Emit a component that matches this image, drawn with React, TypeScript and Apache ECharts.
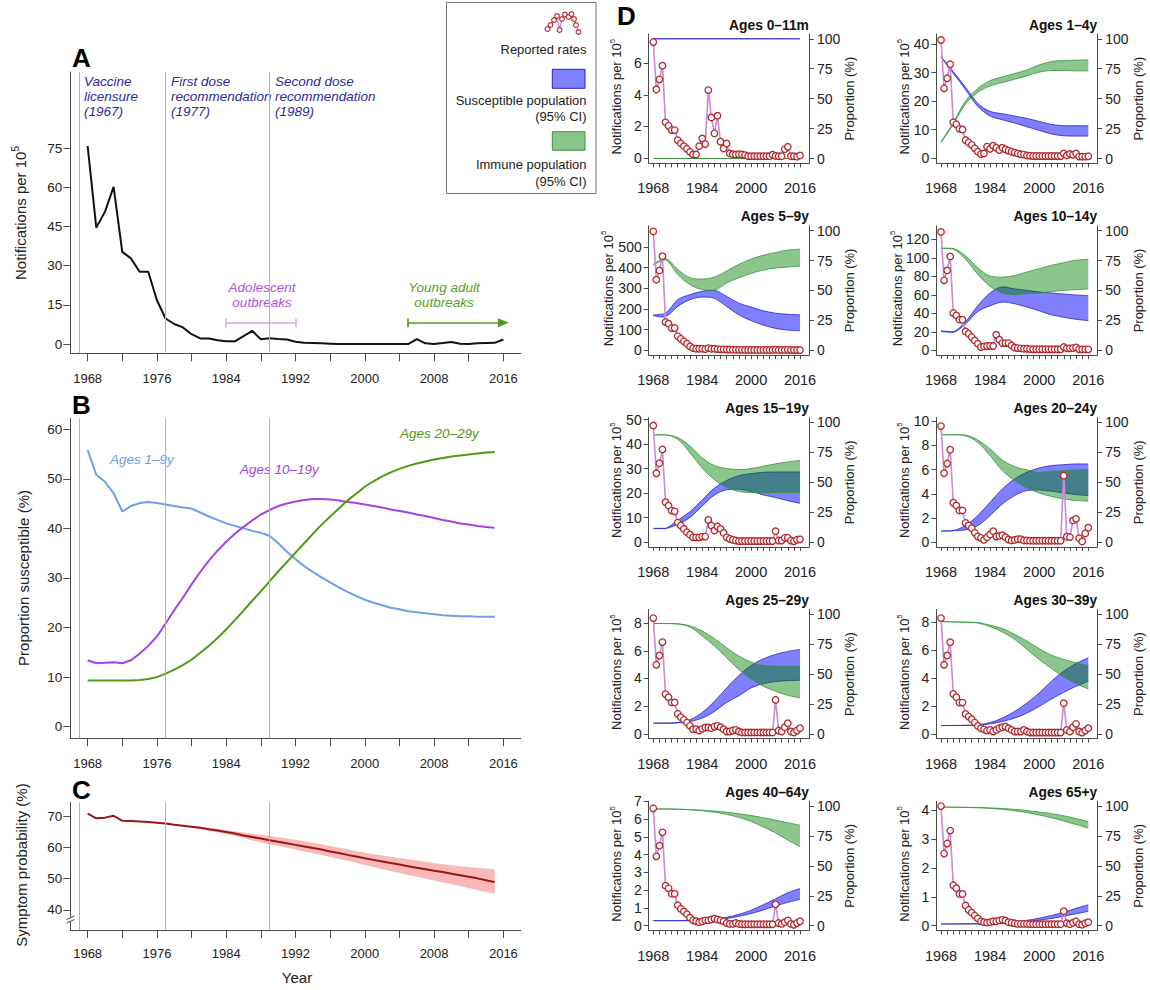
import React, { useEffect, useRef } from "react";
import * as echarts from "echarts";

const FONT = "'Liberation Sans', Arial, Helvetica, sans-serif";
const TXT = "#222222";
const AXIS = "#4a4a4a";

// ---------- shared x values ----------
const YEARS = [1968,1969,1970,1971,1972,1973,1974,1975,1976,1977,1978,1979,1980,1981,1982,1983,1984,1985,1986,1987,1988,1989,1990,1991,1992,1993,1994,1995,1996,1997,1998,1999,2000,2001,2002,2003,2004,2005,2006,2007,2008,2009,2010,2011,2012,2013,2014,2015,2016];
const YEARS_MODEL = [1968,1969,1970,1971,1972,1973,1974,1975,1976,1977,1978,1979,1980,1981,1982,1983,1984,1985,1986,1987,1988,1989,1990,1991,1992,1993,1994,1995,1996,1997,1998,1999,2000,2001,2002,2003,2004,2005,2006,2007,2008,2009,2010,2011,2012,2013,2014,2015];
const BAND_YEARS = [1968, 1972, 1976, 1980, 1984, 1988, 1992, 1996, 2000, 2004, 2008, 2012, 2016];
const C_BAND_YEARS = [1968, 1972, 1976, 1980, 1984, 1988, 1992, 1996, 2000, 2004, 2008, 2012, 2015];

// ---------- tick labels ----------
const X_TICKS_MAIN = [1968, 1972, 1976, 1980, 1984, 1988, 1992, 1996, 2000, 2004, 2008, 2012, 2016];
const X_LABELS_MAIN = [1968, 1976, 1984, 1992, 2000, 2008, 2016];
const X_TICKS_SMALL = [1968,1970,1972,1974,1976,1978,1980,1982,1984,1986,1988,1990,1992,1994,1996,1998,2000,2002,2004,2006,2008,2010,2012,2014,2016];
const X_LABELS_SMALL = [1968, 1984, 2000, 2016];
const A_TICKS = [0, 15, 30, 45, 60, 75];
const B_TICKS = [0, 10, 20, 30, 40, 50, 60];
const C_TICKS = [40, 50, 60, 70];
const PROP_TICKS = [0, 25, 50, 75, 100];
const VACCINE_YEARS = [1967, 1977, 1989];

// ---------- Panel A: notifications per 10^5 ----------
const NOTIF_ALL = [
  75.8, 44.6, 50.6, 60.2, 35.3, 32.8, 27.7, 27.7, 16.8, 9.8,
  7.7, 6.4, 3.8, 2.2, 2.2, 1.5, 1.1, 1.1, 3.1, 5.1,
  1.9, 2.3, 2.0, 1.8, 0.9, 0.5, 0.4, 0.3, 0.2, 0.1,
  0.1, 0.1, 0.1, 0.1, 0.1, 0.1, 0.1, 0.05, 1.9, 0.3,
  0.1, 0.4, 0.8, 0.15, 0.1, 0.3, 0.4, 0.5, 1.8,
];

// ---------- Panel B: proportion susceptible ----------
const SUSC_1_9 = [
  55.8, 50.8, 49.4, 47.1, 43.4, 44.5, 45.1, 45.3, 45.1, 44.8,
  44.5, 44.2, 44.0, 43.2, 42.4, 41.7, 41.0, 40.5, 40.0, 39.5,
  39.1, 38.5, 37.0, 35.3, 33.8, 32.4, 31.2, 30.1, 29.1, 28.1,
  27.2, 26.4, 25.6, 25.0, 24.5, 24.0, 23.7, 23.3, 23.1, 22.9,
  22.7, 22.5, 22.4, 22.3, 22.3, 22.2, 22.2, 22.2,
];
const SUSC_10_19 = [
  13.4, 12.8, 12.9, 13.0, 12.8, 13.4, 14.7, 16.3, 18.2, 20.8,
  23.5, 26.0, 28.7, 31.2, 33.5, 35.5, 37.3, 38.9, 40.3, 41.6,
  42.8, 43.7, 44.5, 45.0, 45.4, 45.7, 45.9, 45.9, 45.8, 45.6,
  45.3, 45.1, 44.8, 44.5, 44.2, 43.8, 43.5, 43.2, 42.8, 42.5,
  42.1, 41.7, 41.4, 41.0, 40.8, 40.5, 40.3, 40.1,
];
const SUSC_20_29 = [
  9.3, 9.3, 9.3, 9.3, 9.3, 9.3, 9.4, 9.6, 10.0, 10.7,
  11.5, 12.4, 13.5, 14.9, 16.3, 17.9, 19.6, 21.5, 23.4, 25.4,
  27.3, 29.3, 31.3, 33.2, 35.1, 37.0, 38.9, 40.7, 42.4, 44.0,
  45.6, 47.0, 48.4, 49.5, 50.5, 51.3, 52.0, 52.6, 53.1, 53.5,
  53.9, 54.2, 54.5, 54.7, 54.9, 55.1, 55.3, 55.4,
];

// ---------- Panel C: symptom probability ----------
const SYMPTOM = [
  70.8, 69.3, 69.5, 70.1, 68.5, 68.4, 68.3, 68.1, 67.9, 67.6,
  67.2, 66.9, 66.6, 66.3, 65.8, 65.4, 64.9, 64.4, 63.8, 63.3,
  62.8, 62.3, 61.8, 61.3, 60.8, 60.3, 59.8, 59.3, 58.7, 58.2,
  57.6, 57.1, 56.5, 56.0, 55.5, 55.0, 54.5, 54.0, 53.5, 53.0,
  52.5, 52.1, 51.6, 51.1, 50.6, 50.1, 49.5, 48.9,
];
const SYMPTOM_HI = [70.8, 68.5, 68.0, 66.8, 65.5, 64.0, 62.4, 60.4, 58.3, 56.6, 55.0, 53.7, 53.0];
const SYMPTOM_LO = [70.8, 68.5, 67.8, 66.3, 64.3, 61.6, 59.3, 56.9, 54.4, 51.8, 49.4, 47.0, 45.1];

// ---------- Panel D: reported rates by age ----------
const R_0_11M = [
  7.35, 4.34, 4.98, 5.85, 2.25, 2.03, 1.76, 1.76, 1.12, 0.91,
  0.74, 0.57, 0.38, 0.21, 0.21, 0.74, 1.23, 0.87, 4.3, 2.56,
  1.55, 2.67, 1.02, 0.59, 0.91, 0.28, 0.23, 0.21, 0.23, 0.21,
  0.17, 0.1, 0.1, 0.1, 0.1, 0.1, 0.1, 0.1, 0.1, 0.2,
  0.12, 0.1, 0.1, 0.55, 0.7, 0.1, 0.1, 0.07, 0.15,
];
const R_1_4Y = [
  41.4, 24.5, 28.0, 32.9, 12.6, 11.9, 10.3, 10.1, 6.4, 5.6,
  4.7, 3.5, 2.3, 1.5, 1.7, 4.1, 3.3, 4.4, 3.7, 2.9,
  3.7, 3.1, 2.7, 2.3, 2.0, 1.7, 1.4, 1.3, 1.0, 0.9,
  0.8, 0.8, 0.8, 0.8, 0.8, 0.8, 0.8, 0.8, 0.8, 0.8,
  1.7, 1.0, 1.5, 1.2, 1.7, 0.6, 0.6, 0.6, 0.7,
];
const R_5_9Y = [
  576, 342, 387, 456, 137, 129, 108, 108, 69, 56,
  44, 32, 19, 11, 8, 8, 8, 6, 11, 8,
  8, 6, 5, 5, 4, 4, 3, 3, 2.5, 2.5,
  2, 2, 2, 2, 2, 2, 2, 2, 2, 2,
  3, 2, 2, 2, 2.5, 1.5, 1.5, 1.5, 1.5,
];
const R_10_14Y = [
  128, 75.7, 86.5, 101.6, 40.4, 37.8, 33.2, 33.2, 20.5, 18,
  14.4, 10.8, 7.2, 3.6, 4.3, 4.7, 5, 4.7, 16.9, 11.5,
  7.9, 7.9, 7.9, 5.4, 2.9, 2.5, 2.2, 1.8, 1.8, 1.4,
  1.2, 1.2, 1.2, 1.2, 1.2, 1.2, 1.2, 1.2, 1.2, 1.2,
  3.6, 2.2, 2.2, 2.5, 3.2, 1.1, 1.1, 1.1, 1.1,
];
const R_15_19Y = [
  47.6, 28.1, 32.2, 37.8, 16.3, 14.9, 12.9, 12.6, 8, 6.8,
  5.4, 4.1, 3.1, 2, 2, 2, 2.3, 2.3, 9.1, 6.8,
  4.8, 6.4, 5.4, 3.8, 2, 1.4, 1, 0.7, 0.5, 0.5,
  0.5, 0.5, 0.5, 0.5, 0.5, 0.5, 0.5, 0.5, 0.5, 0.5,
  4.5, 0.7, 0.7, 1.8, 1.8, 0.7, 0.4, 1, 1.2,
];
const R_20_24Y = [
  9.6, 5.7, 6.5, 7.65, 3.26, 3.04, 2.62, 2.62, 1.6, 1.38,
  1.16, 0.77, 0.47, 0.36, 0.19, 0.41, 0.64, 0.91, 0.47, 0.52,
  0.58, 0.41, 0.22, 0.14, 0.19, 0.25, 0.25, 0.14, 0.14, 0.12,
  0.12, 0.12, 0.12, 0.12, 0.12, 0.12, 0.12, 0.12, 0.12, 0.12,
  5.5, 0.45, 0.42, 1.8, 1.93, 0.33, 0.06, 0.72, 1.2,
];
const R_25_29Y = [
  8.36, 4.99, 5.66, 6.63, 2.87, 2.65, 2.27, 2.27, 1.45, 1.2,
  1.01, 0.82, 0.58, 0.34, 0.34, 0.24, 0.36, 0.46, 0.46, 0.41,
  0.53, 0.58, 0.48, 0.34, 0.17, 0.17, 0.24, 0.29, 0.17, 0.1,
  0.1, 0.1, 0.1, 0.1, 0.1, 0.1, 0.1, 0.1, 0.1, 0.1,
  2.46, 0.24, 0.17, 0.48, 0.77, 0.17, 0.1, 0.24, 0.41,
];
const R_30_39Y = [
  8.28, 4.94, 5.61, 6.56, 2.86, 2.63, 2.24, 2.24, 1.43, 1.24,
  1.05, 0.81, 0.57, 0.41, 0.33, 0.24, 0.29, 0.17, 0.29, 0.41,
  0.48, 0.53, 0.41, 0.29, 0.17, 0.17, 0.17, 0.29, 0.17, 0.1,
  0.1, 0.1, 0.1, 0.1, 0.1, 0.1, 0.1, 0.1, 0.1, 0.1,
  2.2, 0.29, 0.17, 0.48, 0.72, 0.17, 0.1, 0.24, 0.41,
];
const R_40_64Y = [
  6.6, 3.9, 4.5, 5.25, 2.25, 2.1, 1.8, 1.8, 1.15, 0.95,
  0.8, 0.65, 0.45, 0.3, 0.25, 0.2, 0.25, 0.3, 0.3, 0.35,
  0.4, 0.35, 0.3, 0.25, 0.15, 0.1, 0.1, 0.15, 0.1, 0.08,
  0.08, 0.08, 0.08, 0.08, 0.08, 0.08, 0.08, 0.08, 0.08, 0.08,
  1.2, 0.15, 0.1, 0.2, 0.3, 0.1, 0.05, 0.15, 0.25,
];
const R_65Y = [
  4.15, 2.5, 2.85, 3.3, 1.4, 1.3, 1.1, 1.1, 0.7, 0.55,
  0.45, 0.35, 0.25, 0.15, 0.12, 0.1, 0.12, 0.15, 0.15, 0.18,
  0.2, 0.18, 0.12, 0.1, 0.08, 0.06, 0.06, 0.06, 0.06, 0.05,
  0.05, 0.05, 0.05, 0.05, 0.05, 0.05, 0.05, 0.05, 0.05, 0.05,
  0.5, 0.08, 0.05, 0.1, 0.15, 0.05, 0.03, 0.08, 0.12,
];

// ---------- Panel D: susceptible / immune bands (%), at BAND_YEARS ----------
const S_HI_0_11M = [100, 100, 100, 100, 100, 100, 100, 100, 100, 100, 100, 100, 100];
const S_LO_0_11M = [100, 100, 100, 100, 100, 100, 100, 100, 100, 100, 100, 100, 100];
const I_HI_0_11M = [0, 0, 0, 0, 0, 0, 0, 0, 0, 0, 0, 0, 0];
const I_LO_0_11M = [0, 0, 0, 0, 0, 0, 0, 0, 0, 0, 0, 0, 0];

const S_HI_1_4Y = [85.2, 72.6, 59.5, 46, 39.4, 37.4, 35.5, 33.5, 31, 28.5, 27.4, 27.4, 27.4];
const S_LO_1_4Y = [84.6, 71.2, 57.5, 43.5, 35.5, 32.4, 29.6, 26.5, 23.5, 20.5, 19, 18.7, 18.7];
const I_HI_1_4Y = [14, 30, 48, 58.5, 65, 68.2, 71, 74, 78.2, 81, 81.8, 82.1, 82.4];
const I_LO_1_4Y = [13.1, 28.6, 45.5, 55.3, 60.6, 63.4, 66.2, 69, 72.2, 73.5, 73.5, 73.2, 73.2];

const S_HI_5_9Y = [29.6, 31, 42.3, 46.5, 49.3, 50.1, 45, 39.4, 36.1, 33, 31, 30.1, 29.6];
const S_LO_5_9Y = [29, 28.2, 36.6, 42.3, 44.5, 43.4, 36.6, 29.6, 24.8, 21.1, 18.3, 16.9, 16.3];
const I_HI_5_9Y = [71.8, 76.6, 67.6, 60.6, 59.5, 61.2, 66.2, 71.8, 76.1, 79.4, 81.7, 83.7, 84.5];
const I_LO_5_9Y = [71.3, 75.5, 63.4, 54.9, 50.7, 50.1, 56.3, 60.6, 64.2, 67, 68.7, 69.6, 70.4];

const S_HI_10_14Y = [16.3, 15.5, 23.9, 37.2, 47.9, 53, 51.3, 50.1, 48.7, 47.9, 47, 46.2, 45.6];
const S_LO_10_14Y = [15.8, 14.9, 22, 32.4, 37.2, 40.3, 38.9, 36.1, 33, 29.6, 27.6, 25.9, 24.8];
const I_HI_10_14Y = [85.4, 85.1, 78.9, 69, 62, 61.1, 62.5, 65.4, 68.2, 71, 73.2, 75.2, 76.1];
const I_LO_10_14Y = [85.1, 84.5, 76.1, 63.4, 53.5, 47.9, 46.5, 47.3, 47.9, 49, 50.1, 50.7, 51.3];

const S_HI_15_19Y = [11.5, 11.5, 18.3, 25.4, 35.2, 45.1, 51.5, 55.5, 57.2, 58.3, 58.6, 58.6, 58.6];
const S_LO_15_19Y = [11.3, 11.3, 14.9, 20.6, 30.1, 39.4, 43.7, 44.2, 42.3, 39.4, 37.2, 34.6, 32.4];
const I_HI_15_19Y = [89.6, 89.6, 87.3, 80.3, 70.4, 63.9, 61.4, 60.6, 61.4, 63.4, 65.4, 67, 68.2];
const I_LO_15_19Y = [89.6, 89.6, 85.9, 74.6, 62, 52.1, 45.9, 42.3, 41.4, 41.4, 41.4, 41.4, 41.4];

const S_HI_20_24Y = [9.2, 9.7, 13.9, 22.2, 33.3, 44.4, 52.8, 58.3, 61.9, 63.9, 64.7, 65.3, 65.3];
const S_LO_20_24Y = [9.2, 9.5, 10.3, 13.9, 22.2, 31.9, 38.9, 43.1, 43.6, 42.5, 41.1, 39.7, 38.9];
const I_HI_20_24Y = [89.7, 89.7, 89.4, 85.3, 77.8, 68.6, 63.1, 60.3, 58.3, 59.2, 59.7, 60.3, 60.6];
const I_LO_20_24Y = [89.7, 89.7, 88.8, 83.3, 72.2, 59.7, 51.4, 45.3, 41.1, 38.1, 36.1, 34.7, 34.2];

const S_HI_25_29Y = [9, 9, 9.5, 11.8, 17.9, 27.2, 38.4, 48.7, 57.1, 62.7, 66.4, 68.9, 70.6];
const S_LO_25_29Y = [9, 9, 9.2, 10.4, 13.2, 18.8, 26.3, 31.9, 38.4, 42, 43.7, 44.5, 44.8];
const I_HI_25_29Y = [92.2, 92.2, 92, 90.2, 86, 79.6, 72, 65, 59.9, 57.1, 56.6, 56.6, 56.6];
const I_LO_25_29Y = [92.2, 92.2, 91.8, 89.4, 81.8, 73.4, 63.6, 53.8, 45.9, 39.8, 35.6, 32.2, 30];

const S_HI_30_39Y = [7, 7, 7.2, 7.6, 9.5, 13.2, 18.8, 25.8, 34.2, 44, 52.4, 58.8, 63.6];
const S_LO_30_39Y = [7, 7, 7.1, 7.4, 8.4, 10.4, 13.2, 17.4, 23, 29.1, 34.7, 39.8, 44];
const I_HI_30_39Y = [93.8, 93.6, 93.3, 93, 90.8, 88, 83.2, 77.6, 71.1, 65.8, 62.2, 59.4, 57.1];
const I_LO_30_39Y = [93.8, 93.6, 93.2, 92.6, 89.6, 85.2, 79, 70.6, 62.2, 54.6, 47.6, 42, 37.5];

const S_HI_40_64Y = [4.2, 4.2, 4.2, 4.3, 4.6, 5.5, 7, 9.5, 13, 17.5, 22.5, 27.5, 31];
const S_LO_40_64Y = [4.2, 4.2, 4.2, 4.2, 4.4, 5, 6, 7.8, 10.2, 13.2, 16.5, 19.5, 22];
const I_HI_40_64Y = [97.5, 97.5, 97.3, 97, 96.5, 95.8, 94.8, 93.5, 92, 90.2, 88.2, 86, 84];
const I_LO_40_64Y = [97.5, 97.5, 97.3, 96.8, 96, 94.8, 93, 90.5, 87, 82.5, 77.5, 71.5, 66];

const S_HI_65Y = [1.5, 1.5, 1.5, 1.6, 1.8, 2.3, 3.2, 4.5, 6.3, 8.6, 11.3, 14.5, 17.5];
const S_LO_65Y = [1.5, 1.5, 1.5, 1.5, 1.6, 1.9, 2.5, 3.4, 4.6, 6.1, 7.9, 10, 12];
const I_HI_65Y = [99, 99, 98.9, 98.7, 98.4, 97.9, 97.2, 96.2, 95, 93.6, 91.8, 89.5, 87];
const I_LO_65Y = [99, 99, 98.8, 98.5, 98, 97.2, 96, 94.5, 92.5, 90.2, 87.5, 84.5, 81.5];

const PANELS = [
  { title: "Ages 0\u201311m", rates: R_0_11M, sHi: S_HI_0_11M, sLo: S_LO_0_11M, iHi: I_HI_0_11M, iLo: I_LO_0_11M, min: -0.35, max: 7.86, ticks: [0, 2, 4, 6], nameShift: 0 },
  { title: "Ages 1\u20134y", rates: R_1_4Y, sHi: S_HI_1_4Y, sLo: S_LO_1_4Y, iHi: I_HI_1_4Y, iLo: I_LO_1_4Y, min: -1.75, max: 43.5, ticks: [0, 10, 20, 30, 40], nameShift: 0 },
  { title: "Ages 5\u20139y", rates: R_5_9Y, sHi: S_HI_5_9Y, sLo: S_LO_5_9Y, iHi: I_HI_5_9Y, iLo: I_LO_5_9Y, min: -23, max: 603, ticks: [0, 100, 200, 300, 400, 500], nameShift: -8.5 },
  { title: "Ages 10\u201314y", rates: R_10_14Y, sHi: S_HI_10_14Y, sLo: S_LO_10_14Y, iHi: I_HI_10_14Y, iLo: I_LO_10_14Y, min: -5.1, max: 134.7, ticks: [0, 20, 40, 60, 80, 100, 120], nameShift: -7 },
  { title: "Ages 15\u201319y", rates: R_15_19Y, sHi: S_HI_15_19Y, sLo: S_LO_15_19Y, iHi: I_HI_15_19Y, iLo: I_LO_15_19Y, min: -1.9, max: 50.8, ticks: [0, 10, 20, 30, 40, 50], nameShift: 0 },
  { title: "Ages 20\u201324y", rates: R_20_24Y, sHi: S_HI_20_24Y, sLo: S_LO_20_24Y, iHi: I_HI_20_24Y, iLo: I_LO_20_24Y, min: -0.39, max: 10.3, ticks: [0, 2, 4, 6, 8, 10], nameShift: 0 },
  { title: "Ages 25\u201329y", rates: R_25_29Y, sHi: S_HI_25_29Y, sLo: S_LO_25_29Y, iHi: I_HI_25_29Y, iLo: I_LO_25_29Y, min: -0.35, max: 8.99, ticks: [0, 2, 4, 6, 8], nameShift: 0 },
  { title: "Ages 30\u201339y", rates: R_30_39Y, sHi: S_HI_30_39Y, sLo: S_LO_30_39Y, iHi: I_HI_30_39Y, iLo: I_LO_30_39Y, min: -0.34, max: 8.9, ticks: [0, 2, 4, 6, 8], nameShift: 0 },
  { title: "Ages 40\u201364y", rates: R_40_64Y, sHi: S_HI_40_64Y, sLo: S_LO_40_64Y, iHi: I_HI_40_64Y, iLo: I_LO_40_64Y, min: -0.27, max: 7.0, ticks: [0, 1, 2, 3, 4, 5, 6, 7], nameShift: 0 },
  { title: "Ages 65+y", rates: R_65Y, sHi: S_HI_65Y, sLo: S_LO_65Y, iHi: I_HI_65Y, iLo: I_LO_65Y, min: -0.17, max: 4.32, ticks: [0, 1, 2, 3, 4], nameShift: 0 },
];

// ---------- layout ----------
const MAIN_LEFT = 70.3;
const MAIN_WIDTH = 450.4;
const COL_LEFT = [648.7, 936.4];
const COL_WIDTH = [160.2, 160.8];
const ROW_TOP = [34, 225.8, 417.6, 609.4, 801.2];
const PANEL_H = 129.3;

const BLUE_FILL = "rgba(0,0,255,0.5)";
const BLUE_EDGE = "#2323c8";
const GREEN_FILL = "rgba(0,128,0,0.45)";
const GREEN_EDGE = "#34943a";
const RATE_LINE = "#c98ad9";
const RATE_EDGE = "#b3282d";
const NAVY = "#2b2b9a";

const fmt = (v: number) => String(v);

function xAxisCfg(gridIndex: number, min: number, max: number, ticks: number[], labels: number[], tickLen: number, margin: number, fontSize: number) {
  return {
    type: "value", gridIndex, min, max,
    splitLine: { show: false },
    axisLine: { show: true, onZero: false, lineStyle: { color: AXIS, width: 1 } },
    axisTick: { show: true, length: tickLen, customValues: ticks, lineStyle: { color: AXIS, width: 1 } },
    axisLabel: { show: true, customValues: labels, margin, fontSize, color: TXT, fontFamily: FONT, formatter: fmt },
  };
}

function yAxisCfg(gridIndex: number, position: string, min: number, max: number, ticks: number[], tickLen: number, margin: number, fontSize: number) {
  return {
    type: "value", gridIndex, position, min, max,
    splitLine: { show: false },
    axisLine: { show: true, onZero: false, lineStyle: { color: AXIS, width: 1 } },
    axisTick: { show: true, length: tickLen, customValues: ticks, lineStyle: { color: AXIS, width: 1 } },
    axisLabel: { show: true, customValues: ticks, margin, fontSize, color: TXT, fontFamily: FONT, formatter: fmt },
  };
}

const NO_CONSTRAINT = [[Infinity, Infinity], [-Infinity, -Infinity]];

function bandSeries(xi: number, yi: number, xs: number[], lo: number[], hi: number[], fill: string, edge: string | null, z: number) {
  return {
    type: "custom", xAxisIndex: xi, yAxisIndex: yi, silent: true, z,
    data: [[xs[0], lo[0]]],
    encode: { x: 0, y: 1 },
    renderItem: (params: any, api: any) => {
      const up = xs.map((x, i) => api.coord([x, hi[i]]));
      const dn = xs.map((x, i) => api.coord([x, lo[i]]));
      const n = up.length;
      // duplicated end vertices keep the band's ends square when smoothed
      const poly = [up[0], ...up, up[n - 1], dn[n - 1], ...dn.slice().reverse(), dn[0]];
      const children: any[] = [
        { type: "polygon", shape: { points: poly, smooth: 0.35, smoothConstraint: NO_CONSTRAINT }, style: { fill, stroke: "none" } },
      ];
      if (edge) {
        children.push({ type: "polyline", shape: { points: up, smooth: 0.35, smoothConstraint: NO_CONSTRAINT }, style: { stroke: edge, lineWidth: 0.8, fill: "none" } });
        children.push({ type: "polyline", shape: { points: dn, smooth: 0.35, smoothConstraint: NO_CONSTRAINT }, style: { stroke: edge, lineWidth: 0.8, fill: "none" } });
      }
      return { type: "group", children };
    },
  };
}

const vLines = {
  silent: true, symbol: "none", label: { show: false },
  lineStyle: { color: "#b3b3b3", width: 1, type: "solid" },
  data: VACCINE_YEARS.map((v) => ({ xAxis: v })),
};

function text(x: number, y: number, t: string, extra: any = {}) {
  return {
    type: "text", x, y, silent: true,
    style: { text: t, fontFamily: FONT, fontSize: 13, fill: TXT, align: "left", verticalAlign: "middle", ...extra },
  };
}

function supName(x: number, y: number, main: string, sup: string, size: number) {
  return {
    type: "text", x, y, rotation: Math.PI / 2, silent: true,
    style: {
      text: `{a|${main}}{b|${sup}}`,
      align: "center", verticalAlign: "middle",
      rich: {
        a: { fontSize: size, fontFamily: FONT, fill: TXT, lineHeight: size + 4 },
        b: { fontSize: Math.round(size * 0.65), fontFamily: FONT, fill: TXT, lineHeight: Math.round(size * 0.65), verticalAlign: "top" },
      },
    },
  };
}

function buildOption() {
  const grids: any[] = [
    { left: MAIN_LEFT, top: 72, width: MAIN_WIDTH, height: 281.3 },
    { left: MAIN_LEFT, top: 418.3, width: MAIN_WIDTH, height: 320 },
    { left: MAIN_LEFT, top: 802.3, width: MAIN_WIDTH, height: 127.7 },
  ];
  PANELS.forEach((_, i) => {
    grids.push({ left: COL_LEFT[i % 2], top: ROW_TOP[Math.floor(i / 2)], width: COL_WIDTH[i % 2], height: PANEL_H });
  });
  const grid = grids.map((g) => ({ ...g, show: false, containLabel: false, outerBoundsMode: "none" }));

  const xAxis: any[] = [
    xAxisCfg(0, 1966, 2018, X_TICKS_MAIN, X_LABELS_MAIN, 8, 19, 13),
    xAxisCfg(1, 1966, 2018, X_TICKS_MAIN, X_LABELS_MAIN, 8, 19, 13),
    xAxisCfg(2, 1966, 2018, X_TICKS_MAIN, X_LABELS_MAIN, 8, 17, 13),
  ];
  const yAxis: any[] = [
    yAxisCfg(0, "left", -3.5, 104.1, A_TICKS, 7, 8, 13.5),
    yAxisCfg(1, "left", -2.34, 62.2, B_TICKS, 7, 8, 13.5),
    yAxisCfg(2, "left", 33.6, 74.4, C_TICKS, 7, 8, 13.5),
  ];
  PANELS.forEach((p, i) => {
    xAxis.push(xAxisCfg(3 + i, 1966.5, 2018.9, X_TICKS_SMALL, X_LABELS_SMALL, 4, 17.5, 14.5));
    yAxis.push(yAxisCfg(3 + i, "left", p.min, p.max, p.ticks, 5, 7, 14));
    yAxis.push(yAxisCfg(3 + i, "right", -4, 104, PROP_TICKS, 5, 8, 14));
  });

  const series: any[] = [];

  // Panel A
  const adolColor = "#d9a3ec";
  const youngColor = "#4a9a1a";
  const cap = 1.7;
  const lvl = 8.15;
  series.push({
    type: "line", xAxisIndex: 0, yAxisIndex: 0, symbol: "none", z: 3,
    data: YEARS.map((y, i) => [y, NOTIF_ALL[i]]),
    lineStyle: { color: "#111111", width: 2 },
    markLine: {
      silent: true, symbol: "none", label: { show: false },
      lineStyle: { color: "#b3b3b3", width: 1, type: "solid" },
      data: [
        ...VACCINE_YEARS.map((v) => ({ xAxis: v })),
        [
          { coord: [1984, lvl], lineStyle: { color: adolColor, width: 1.6, type: "solid" } },
          { coord: [1992, lvl], lineStyle: { color: adolColor, width: 1.6, type: "solid" } },
        ],
        [
          { coord: [1984, lvl - cap], lineStyle: { color: adolColor, width: 1.6, type: "solid" } },
          { coord: [1984, lvl + cap], lineStyle: { color: adolColor, width: 1.6, type: "solid" } },
        ],
        [
          { coord: [1992, lvl - cap], lineStyle: { color: adolColor, width: 1.6, type: "solid" } },
          { coord: [1992, lvl + cap], lineStyle: { color: adolColor, width: 1.6, type: "solid" } },
        ],
        [
          { coord: [2005, lvl], symbol: "none", lineStyle: { color: youngColor, width: 1.6, type: "solid" }, itemStyle: { color: youngColor } },
          { coord: [2016, lvl], symbol: "triangle", symbolSize: [9, 11], lineStyle: { color: youngColor, width: 1.6, type: "solid" }, itemStyle: { color: youngColor } },
        ],
        [
          { coord: [2005, lvl - cap], lineStyle: { color: youngColor, width: 1.6, type: "solid" } },
          { coord: [2005, lvl + cap], lineStyle: { color: youngColor, width: 1.6, type: "solid" } },
        ],
      ],
    },
  });

  // Panel B
  series.push({
    type: "line", xAxisIndex: 1, yAxisIndex: 1, symbol: "none", z: 3,
    data: YEARS_MODEL.map((y, i) => [y, SUSC_1_9[i]]),
    lineStyle: { color: "#6d9ef0", width: 2 },
    markLine: vLines,
  });
  series.push({
    type: "line", xAxisIndex: 1, yAxisIndex: 1, symbol: "none", z: 3,
    data: YEARS_MODEL.map((y, i) => [y, SUSC_10_19[i]]),
    lineStyle: { color: "#a443de", width: 2 },
  });
  series.push({
    type: "line", xAxisIndex: 1, yAxisIndex: 1, symbol: "none", z: 3,
    data: YEARS_MODEL.map((y, i) => [y, SUSC_20_29[i]]),
    lineStyle: { color: "#4e9a12", width: 2 },
  });

  // Panel C
  series.push(bandSeries(2, 2, C_BAND_YEARS, SYMPTOM_LO, SYMPTOM_HI, "#f9b9b9", null, 1));
  series.push({
    type: "line", xAxisIndex: 2, yAxisIndex: 2, symbol: "none", z: 3,
    data: YEARS_MODEL.map((y, i) => [y, SYMPTOM[i]]),
    lineStyle: { color: "#9b1515", width: 2 },
    markLine: vLines,
  });

  // Panel D
  PANELS.forEach((p, i) => {
    const xi = 3 + i;
    const yl = 3 + 2 * i;
    const yr = 4 + 2 * i;
    series.push(bandSeries(xi, yr, BAND_YEARS, p.sLo, p.sHi, BLUE_FILL, BLUE_EDGE, 1));
    series.push(bandSeries(xi, yr, BAND_YEARS, p.iLo, p.iHi, GREEN_FILL, GREEN_EDGE, 2));
    series.push({
      type: "line", xAxisIndex: xi, yAxisIndex: yl, z: 4,
      data: YEARS.map((y, k) => [y, p.rates[k]]),
      symbol: "circle", symbolSize: 6.5, showAllSymbol: true,
      itemStyle: { color: "#ffffff", borderColor: RATE_EDGE, borderWidth: 1.3 },
      lineStyle: { color: RATE_LINE, width: 1.6 },
    });
  });

  // ---------- graphic ----------
  const g: any[] = [];
  const letter = (x: number, y: number, t: string) => text(x, y, t, { fontSize: 26, fontWeight: "bold", fill: "#000" });
  g.push(letter(72, 58, "A"));
  g.push(letter(72, 405, "B"));
  g.push(letter(72, 790, "C"));
  g.push(letter(617, 16, "D"));

  const ann = { fontStyle: "italic", fontSize: 13.5, fill: NAVY, lineHeight: 15, verticalAlign: "top" };
  g.push(text(84, 73.5, "Vaccine\nlicensure\n(1967)", ann));
  g.push(text(171, 73.5, "First dose\nrecommendation\n(1977)", ann));
  g.push(text(275, 73.5, "Second dose\nrecommendation\n(1989)", ann));
  g.push(text(262, 279.5, "Adolescent\noutbreaks", { fontStyle: "italic", fontSize: 13.5, fill: "#b452dc", lineHeight: 15, verticalAlign: "top", align: "center" }));
  g.push(text(444, 279.5, "Young adult\noutbreaks", { fontStyle: "italic", fontSize: 13.5, fill: "#55a01e", lineHeight: 15, verticalAlign: "top", align: "center" }));

  g.push(text(110, 459, "Ages 1\u20139y", { fontStyle: "italic", fontSize: 13.5, fill: "#6d9ef0" }));
  g.push(text(240, 469, "Ages 10\u201319y", { fontStyle: "italic", fontSize: 13.5, fill: "#a443de" }));
  g.push(text(400, 433, "Ages 20\u201329y", { fontStyle: "italic", fontSize: 13.5, fill: "#4e9a12" }));

  g.push(supName(20, 213, "Notifications per 10", "5", 15));
  g.push({ type: "text", x: 23, y: 578, rotation: Math.PI / 2, silent: true, style: { text: "Proportion susceptible (%)", fontFamily: FONT, fontSize: 15, fill: TXT, align: "center", verticalAlign: "middle" } });
  g.push({ type: "text", x: 21.5, y: 865, rotation: Math.PI / 2, silent: true, style: { text: "Symptom probability (%)", fontFamily: FONT, fontSize: 15, fill: TXT, align: "center", verticalAlign: "middle" } });
  g.push(text(297, 977, "Year", { fontSize: 15, align: "center" }));

  // axis break on panel C
  g.push({ type: "rect", z: 100, silent: true, shape: { x: 67.5, y: 917, width: 6, height: 4.5 }, style: { fill: "#ffffff" } });
  g.push({ type: "line", z: 101, silent: true, shape: { x1: 66.5, y1: 919.5, x2: 74.5, y2: 916 }, style: { stroke: AXIS, lineWidth: 1 } });
  g.push({ type: "line", z: 101, silent: true, shape: { x1: 66.5, y1: 923, x2: 74.5, y2: 919.5 }, style: { stroke: AXIS, lineWidth: 1 } });

  // small panel titles and axis names
  PANELS.forEach((p, i) => {
    const col = i % 2;
    const row = Math.floor(i / 2);
    const left = COL_LEFT[col];
    const right = left + COL_WIDTH[col];
    const top = ROW_TOP[row];
    const mid = top + PANEL_H / 2;
    g.push(text(right, top - 9, p.title, { fontWeight: "bold", fontSize: 13.8, align: "right", fill: "#111" }));
    g.push(supName(left - 32 + p.nameShift, mid - 2, "Notifications per 10", "5", 13));
    g.push({ type: "text", x: right + 41, y: mid, rotation: Math.PI / 2, silent: true, style: { text: "Proportion (%)", fontFamily: FONT, fontSize: 13, fill: TXT, align: "center", verticalAlign: "middle" } });
  });

  // legend box
  g.push({ type: "rect", silent: true, shape: { x: 446.5, y: 2.5, width: 149.5, height: 191 }, style: { fill: "none", stroke: "#777", lineWidth: 1 } });
  const legPts = [[547.5, 29], [550.5, 25], [554, 20], [557, 16], [559.5, 30], [562, 19], [565, 14.5], [568.5, 17], [571.5, 14], [574, 19], [576, 25], [578.5, 32]];
  g.push({ type: "polyline", silent: true, shape: { points: legPts }, style: { stroke: RATE_LINE, lineWidth: 1.4, fill: "none" } });
  legPts.forEach((pt) => g.push({ type: "circle", silent: true, shape: { cx: pt[0], cy: pt[1], r: 2.4 }, style: { fill: "#fff", stroke: RATE_EDGE, lineWidth: 1.1 } }));
  g.push(text(586.5, 49, "Reported rates", { align: "right" }));
  g.push({ type: "rect", silent: true, shape: { x: 552.3, y: 69.3, width: 32.7, height: 19 }, style: { fill: BLUE_FILL, stroke: BLUE_EDGE, lineWidth: 1 } });
  g.push(text(586.5, 100.7, "Susceptible population", { align: "right" }));
  g.push(text(586.5, 116.7, "(95% CI)", { align: "right" }));
  g.push({ type: "rect", silent: true, shape: { x: 552.3, y: 131.7, width: 32.7, height: 18.5 }, style: { fill: GREEN_FILL, stroke: GREEN_EDGE, lineWidth: 1 } });
  g.push(text(586.5, 164, "Immune population", { align: "right" }));
  g.push(text(586.5, 181.7, "(95% CI)", { align: "right" }));

  return {
    animation: false,
    backgroundColor: "#ffffff",
    textStyle: { fontFamily: FONT },
    grid, xAxis, yAxis, series,
    graphic: { elements: g },
  };
}

export default function App() {
  const ref = useRef<HTMLDivElement>(null);
  useEffect(() => {
    if (!ref.current) return;
    const chart = echarts.init(ref.current, null, { renderer: "svg" });
    chart.setOption(buildOption() as any);
    return () => chart.dispose();
  }, []);
  return (
    <div
      ref={ref}
      style={{ position: "absolute", left: 0, top: 0, width: 1150, height: 990, background: "#fff" }}
    />
  );
}
